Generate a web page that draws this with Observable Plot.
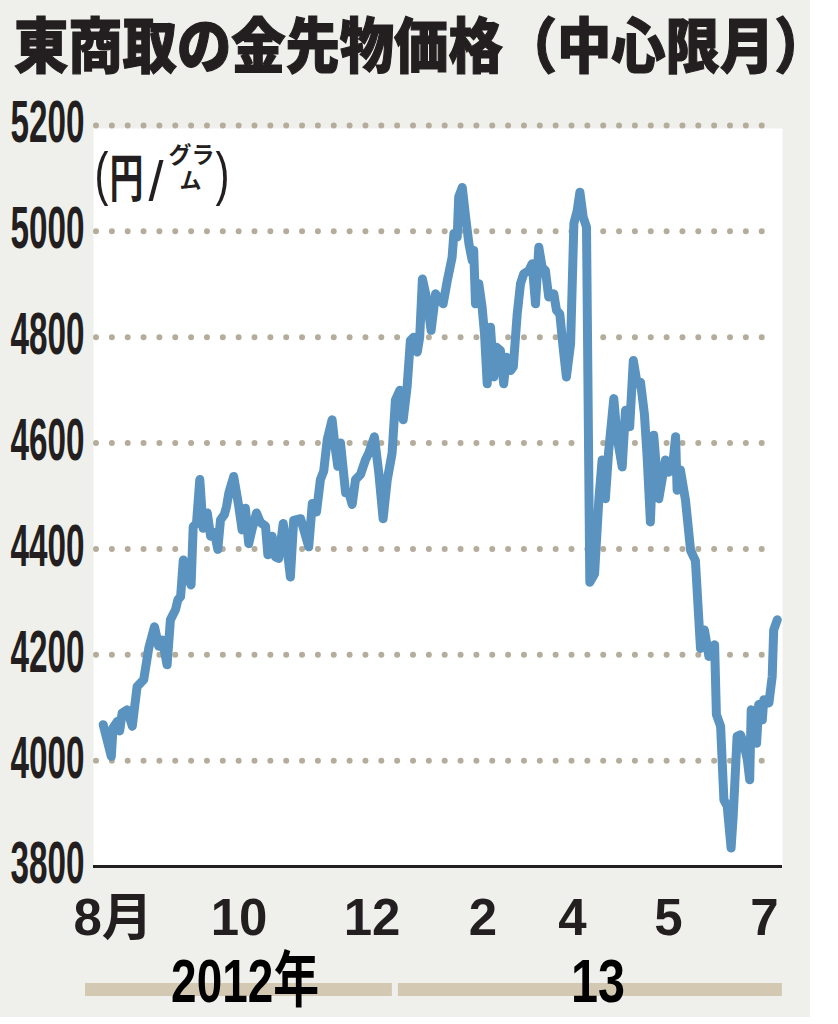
<!DOCTYPE html>
<html><head><meta charset="utf-8">
<script src="https://cdn.jsdelivr.net/npm/d3@7"></script>
<script src="https://cdn.jsdelivr.net/npm/@observablehq/plot@0.6"></script>
<style>
html,body{margin:0;padding:0;background:#fff;}
#wrap{position:relative;width:810px;height:1017px;background:#efefeb;}
#title{position:absolute;left:14px;top:12px;font-family:"Noto Sans CJK JP",sans-serif;font-weight:900;font-size:60px;line-height:60px;white-space:nowrap;transform:scaleX(0.905);transform-origin:0 0;color:#231f20;-webkit-text-stroke:1.2px #231f20;}
#chart{position:absolute;left:0;top:90px;width:838px;}
#chart svg{max-width:none !important;}
</style></head><body>
<div id="wrap"><div id="title">東商取の金先物価格（中心限月）</div><div id="chart"></div></div>
<script>
// trading-day position (index along the x axis) and price (円/グラム)
const day = [0.9,3.6,4.2,5.6,6.4,7.2,8.9,10.6,12.2,14.4,16.1,18,19.4,20.6,22.2,23.3,25,25.8,26.7,27.6,28.9,30.2,30.9,32,33.1,34.2,35.6,36.7,38,39.1,40,41.3,42,42.8,44.4,46.1,47.2,48.3,49.4,50.6,52,53.3,55,55.8,57.2,58.3,59.4,60.9,62,63.3,64.4,66.7,67.8,69.4,70.6,72,73.3,74.4,75.6,77.2,78.3,79.1,80,81.7,82.8,83.9,85,86.7,88.3,89.4,91.3,92.8,94.2,95.6,97.2,98.3,99.8,100.9,102.2,103.3,104.4,105.6,106.4,107.3,108.9,110.2,111.7,112.8,114.2,115.6,117.2,117.8,118.9,119.4,120.6,121.7,122.8,123.9,124.4,125,126.1,127.2,128,128.9,130,131.1,132,133.3,134.4,135.3,136.7,137.6,138.9,140,141.1,142.8,143.9,145,146.1,147.2,148.3,149.4,151.1,152,153.1,154.2,155.3,156.7,157.8,158.9,159.8,160.9,162,163.1,164.7,166.1,167.2,168.3,169.4,171.1,172.2,173.9,175,176.4,177.6,178.9,180,181.3,182.2,183.3,184.4,186.1,187.2,188.3,189.4,190.6,191.7,192.2,193.3,195,196.7,198.3,200,201.3,202.8,204.7,205.3,206.7,207.8,208.9,210.2,210.9,212.2,213.3,214.4,215.6,216.4,216.9,217.8,218.7,219.4,220.6,221.1,222.8,223.9,224.4,225.6];
const price = [4068,4008,4062,4074,4056,4090,4096,4065,4140,4153,4213,4253,4216,4228,4181,4266,4285,4304,4310,4379,4347,4332,4442,4449,4531,4439,4468,4424,4431,4399,4455,4465,4480,4506,4537,4480,4436,4477,4410,4439,4468,4450,4443,4389,4424,4385,4382,4448,4410,4347,4454,4457,4436,4404,4486,4470,4531,4547,4607,4644,4588,4556,4600,4506,4506,4484,4531,4541,4568,4581,4612,4542,4457,4531,4581,4681,4700,4644,4706,4794,4800,4772,4800,4910,4869,4813,4882,4872,4863,4907,4951,4996,4989,5065,5083,5027,4977,4945,4964,4863,4901,4857,4807,4712,4819,4725,4781,4775,4712,4762,4737,4744,4844,4901,4920,4926,4939,4863,4970,4932,4926,4876,4882,4851,4844,4781,4725,4788,5015,5039,5074,5027,5008,4337,4353,4492,4568,4495,4585,4684,4612,4555,4662,4631,4756,4712,4715,4655,4575,4451,4615,4495,4531,4568,4545,4551,4612,4511,4549,4492,4397,4378,4212,4247,4197,4219,4087,4065,3926,3914,3835,3895,4046,4049,4033,4002,3964,4096,4084,4033,4106,4077,4115,4109,4159,4247,4266];

const yTicks = [3800,4000,4200,4400,4600,4800,5000,5200];
const gridTicks = [4000,4200,4400,4600,4800,5000,5200];
const monthTickDays = [4.2,46.2,90.5,127.5,157.3,189.3,221.3];
const monthTickLabels = ["8月","10","12","2","4","5","7"];
const yearStart = [-5,99.3];
const yearEnd = [97.3,227.3];
const yearLabelDays = [48.2,165.8];
const yearLabels = ["2012年","13"];

const data = day.map((d,i)=>({day:d, price:price[i]}));
const months = monthTickDays.map((d,i)=>({day:d, label:monthTickLabels[i]}));
const years = yearStart.map((s,i)=>({start:s, end:yearEnd[i], mid:yearLabelDays[i], label:yearLabels[i]}));

const ink = "#231f20";
const narrow = "'Liberation Sans Narrow','Liberation Sans','Noto Sans CJK JP',sans-serif";
const wide = "'Liberation Sans','Noto Sans CJK JP',sans-serif";
const cjk = "'Noto Sans CJK JP',sans-serif";

const plot = Plot.plot({
  width: 838, height: 927,
  marginLeft: 93, marginRight: 56, marginTop: 35, marginBottom: 151,
  x: {domain: [-7/3, 682/3], axis: null},
  y: {domain: [3800, 5200], axis: null},
  style: {background: "transparent", overflow: "visible", maxWidth: "none"},
  marks: [
    Plot.frame({fill: "white", stroke: "none", insetTop: 3}),
    Plot.ruleY(gridTicks, {stroke: "#b5ad9c", strokeWidth: 6, strokeDasharray: "0 15.85", strokeLinecap: "round", insetLeft: 3, insetRight: 16}),
    Plot.ruleY([3800], {stroke: ink, strokeWidth: 3}),
    Plot.line(data, {x: "day", y: "price", stroke: "#5a93bf", strokeWidth: 9, strokeLinejoin: "round", strokeLinecap: "round"}),
    Plot.text(yTicks, {y: d => d, text: d => String(d), frameAnchor: "left", textAnchor: "end", dx: -9, dy: -2, fontSize: 59, fontFamily: narrow, fontWeight: "bold", fill: ink}),
    Plot.text(months, {x: "day", text: "label", frameAnchor: "bottom", lineAnchor: "top", dy: 32, fontSize: 51, fontFamily: wide, fontWeight: "bold", fill: ink}),
    Plot.rect(years, {x1: "start", x2: "end", fill: "#d3c9b2", insetTop: 858, insetBottom: -130}),
    Plot.text(years, {x: "mid", text: "label", frameAnchor: "bottom", lineAnchor: "top", dy: 92, fontSize: 61, fontFamily: narrow, fontWeight: "bold", fill: "#000"}),
    // unit label (円/グラム)
    Plot.text(["("], {frameAnchor: "top-left", dx: 1, dy: 26, fontSize: 60, fontFamily: narrow, fill: ink}),
    Plot.text(["円"], {frameAnchor: "top-left", dx: 16, dy: 34.5, fontSize: 52, fontFamily: cjk, fontWeight: "bold", fill: ink}),
    Plot.text(["/"], {frameAnchor: "top-left", dx: 55, dy: 34.5, fontSize: 56, fontFamily: narrow, fill: ink}),
    Plot.text(["グラ"], {frameAnchor: "top-left", dx: 75, dy: 21, fontSize: 23, fontFamily: cjk, fontWeight: "bold", fill: ink}),
    Plot.text(["ム"], {frameAnchor: "top-left", dx: 86, dy: 47, fontSize: 22, fontFamily: cjk, fontWeight: "bold", fill: ink}),
    Plot.text([")"], {frameAnchor: "top-left", dx: 122, dy: 26, fontSize: 60, fontFamily: narrow, fill: ink})
  ]
});

// condense the numeric labels to the reference's narrow lettering
const fitWidths = {"2012年": 148, "13": 54, "円": 34, "(": 14, ")": 14, "/": 15};
d3.select(plot).selectAll("text").each(function() {
  const t = this.textContent;
  let w = null;
  if (/^\d{4}$/.test(t)) w = 74;
  else if (fitWidths[t]) w = fitWidths[t];
  if (w) { this.setAttribute("textLength", w); this.setAttribute("lengthAdjust", "spacingAndGlyphs"); }
});
document.getElementById("chart").appendChild(plot);
</script>
</body></html>
